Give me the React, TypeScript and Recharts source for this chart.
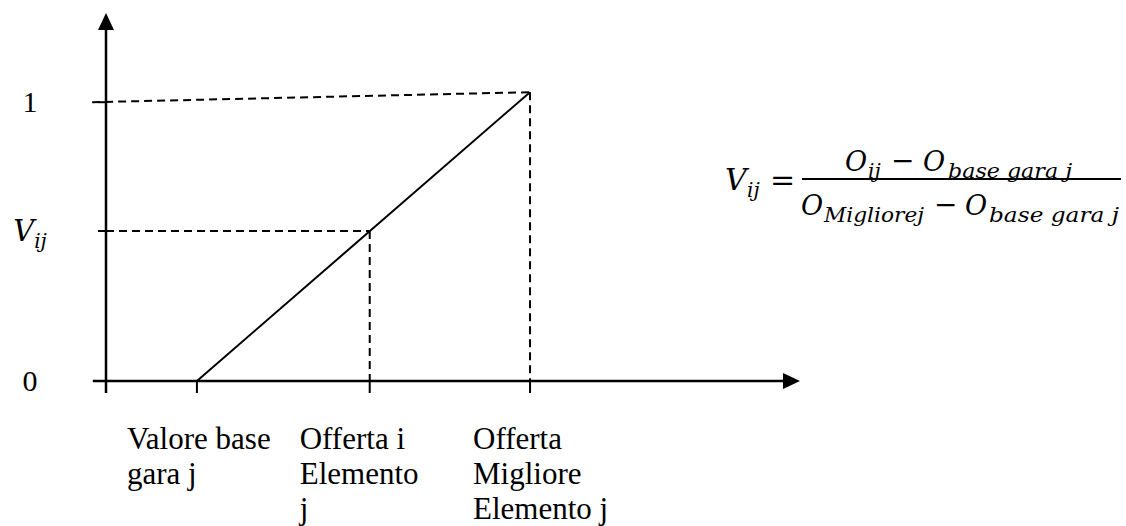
import { ComposedChart, Line, XAxis, YAxis, ReferenceLine, ReferenceDot } from 'recharts';

// posizioni sull'asse x (unità arbitrarie) e relative etichette
const xTickValues = [1.31, 3.8, 6.11];
const xTickLabels = [
  ['Valore base', 'gara j'],
  ['Offerta i', 'Elemento', 'j'],
  ['Offerta', 'Migliore', 'Elemento j'],
];
const xLabelShift = [-70, -70, -57];

// valori sull'asse y
const yTickValues = [0, 0.538, 1];
const yTickLabels = ['0', 'Vij', '1'];

// retta del punteggio: da base gara (0) a offerta migliore (1)
const scoreLine = [
  { x: 1.31, v: 0 },
  { x: 6.11, v: 1.036 },
];

const X_MAX = 10;
const Y_MAX = 1.32;
const serif = '"Liberation Serif", "Times New Roman", serif';
const mathFont = '"DejaVu Serif", serif';

function XTick({ x, y, payload }: any) {
  const i = xTickValues.indexOf(payload.value);
  const lines = xTickLabels[i] || [];
  const lx = x + (xLabelShift[i] ?? -70);
  return (
    <text x={lx} y={y} fontFamily={serif} fontSize={31} fill="#000" textAnchor="start">
      {lines.map((l, k) => (
        <tspan key={k} x={lx} dy={k === 0 ? 56 : 35}>
          {l}
        </tspan>
      ))}
    </text>
  );
}

function YTick({ x, y, payload }: any) {
  const i = yTickValues.indexOf(payload.value);
  const label = yTickLabels[i];
  if (label === 'Vij') {
    return (
      <text x={x} y={y} dy={10} textAnchor="middle" fill="#000" fontFamily={mathFont} fontStyle="italic">
        <tspan fontSize={29}>V</tspan>
        <tspan fontSize={20} dy={7}>ij</tspan>
      </text>
    );
  }
  return (
    <text x={x} y={y} dy={10} textAnchor="middle" fill="#000" fontFamily={serif} fontSize={30}>
      {label}
    </text>
  );
}

const upArrow = ({ cx, cy }: any) => (
  <path d={`M${cx},${cy} L${cx - 8},${cy + 17} L${cx + 8},${cy + 17} Z`} fill="#000" />
);
const rightArrow = ({ cx, cy }: any) => (
  <path d={`M${cx},${cy} L${cx - 17},${cy - 8} L${cx - 17},${cy + 8} Z`} fill="#000" />
);

function Formula() {
  const it = { fontFamily: mathFont, fontStyle: 'italic' as const, fill: '#000' };
  const sub = { ...it, fontSize: 20 };
  return (
    <svg
      width={1126}
      height={526}
      style={{ position: 'absolute', left: 0, top: 0, pointerEvents: 'none' }}
    >
      <text x={725} y={190} fontSize={30} {...it}>V</text>
      <text x={747} y={197} {...sub}>ij</text>
      <text x={770} y={190} fontSize={30} fontFamily={mathFont} fill="#000">=</text>
      <line x1={802} y1={179} x2={1121} y2={179} stroke="#000" strokeWidth={2} />

      <text x={845} y={171} fontSize={27} {...it}>O</text>
      <text x={868} y={178} {...sub}>ij</text>
      <text x={891} y={170} fontSize={28} fontFamily={mathFont} fill="#000">−</text>
      <text x={923} y={171} fontSize={27} {...it}>O</text>
      <text x={948} y={178} {...sub} textLength={124} lengthAdjust="spacingAndGlyphs">base gara j</text>

      <text x={801} y={215} fontSize={27} {...it}>O</text>
      <text x={824} y={222} {...sub} textLength={100} lengthAdjust="spacingAndGlyphs">Migliorej</text>
      <text x={934} y={214} fontSize={28} fontFamily={mathFont} fill="#000">−</text>
      <text x={965} y={215} fontSize={27} {...it}>O</text>
      <text x={989} y={222} {...sub} textLength={130} lengthAdjust="spacingAndGlyphs">base gara j</text>
    </svg>
  );
}

export default function App() {
  return (
    <div style={{ position: 'absolute', left: 0, top: 0, width: 1126, height: 526, background: '#fff' }}>
      <ComposedChart
        width={1126}
        height={526}
        data={scoreLine}
        margin={{ top: 13, right: 326, bottom: 0, left: 0 }}
      >
        <XAxis
          dataKey="x"
          type="number"
          domain={[0, X_MAX]}
          allowDataOverflow
          ticks={xTickValues}
          tick={<XTick />}
          tickSize={12}
          tickMargin={0}
          tickLine={{ stroke: '#000', strokeWidth: 2 }}
          axisLine={false}
          height={145}
          interval={0}
        />
        <YAxis
          type="number"
          domain={[0, Y_MAX]}
          allowDataOverflow
          ticks={yTickValues}
          tick={<YTick />}
          tickSize={8}
          tickMargin={68}
          tickLine={{ stroke: '#000', strokeWidth: 2 }}
          axisLine={false}
          width={106}
          interval={0}
        />

        {/* linee tratteggiate di riferimento */}
        <ReferenceLine
          segment={[{ x: -0.2, y: 1 }, { x: 6.11, y: 1.036 }]}
          stroke="#000"
          strokeWidth={2}
          strokeDasharray="8 5"
          ifOverflow="visible"
        />
        <ReferenceLine
          segment={[{ x: 0, y: 0.538 }, { x: 3.8, y: 0.538 }]}
          stroke="#000"
          strokeWidth={2}
          strokeDasharray="8 5"
          ifOverflow="visible"
        />
        <ReferenceLine
          segment={[{ x: 3.8, y: 0.538 }, { x: 3.8, y: 0 }]}
          stroke="#000"
          strokeWidth={2}
          strokeDasharray="8 5"
          ifOverflow="visible"
        />
        <ReferenceLine
          segment={[{ x: 6.11, y: 1.036 }, { x: 6.11, y: 0 }]}
          stroke="#000"
          strokeWidth={2}
          strokeDasharray="8 5"
          ifOverflow="visible"
        />

        {/* assi con freccia */}
        <ReferenceLine
          segment={[{ x: 0, y: -0.043 }, { x: 0, y: 1.27 }]}
          stroke="#000"
          strokeWidth={2.5}
          ifOverflow="visible"
        />
        <ReferenceLine
          segment={[{ x: -0.19, y: 0 }, { x: 9.8, y: 0 }]}
          stroke="#000"
          strokeWidth={2.5}
          ifOverflow="visible"
        />
        <ReferenceDot x={0} y={Y_MAX} r={1} shape={upArrow} ifOverflow="visible" />
        <ReferenceDot x={X_MAX} y={0} r={1} shape={rightArrow} ifOverflow="visible" />

        <Line
          type="linear"
          dataKey="v"
          stroke="#000"
          strokeWidth={2}
          dot={false}
          activeDot={false}
          isAnimationActive={false}
        />
      </ComposedChart>
      <Formula />
    </div>
  );
}
